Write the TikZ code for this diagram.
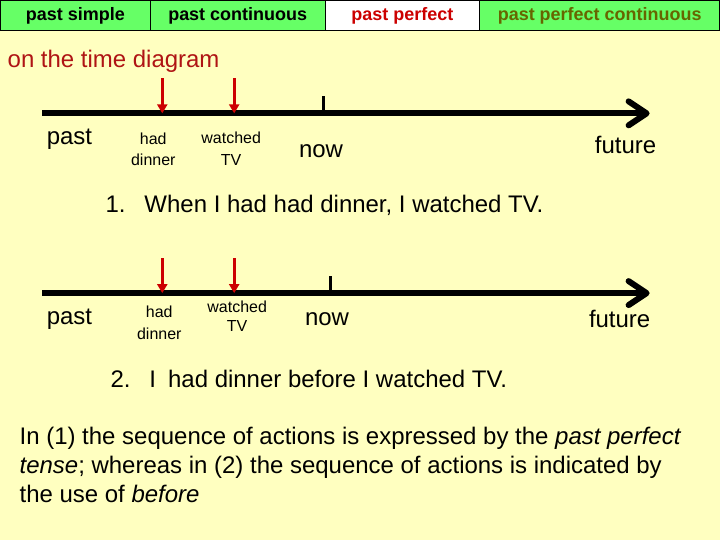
\documentclass[tikz,border=0pt]{standalone}
\usepackage{fontspec}
\setmainfont{Liberation Sans}
\usepackage{xcolor}
\usetikzlibrary{arrows.meta,positioning}
\definecolor{bgyellow}{RGB}{255,255,192}
\definecolor{tabgreen}{RGB}{102,255,102}
\definecolor{tabred}{RGB}{204,0,0}
\definecolor{tabolive}{RGB}{102,102,0}
\definecolor{titlered}{RGB}{175,20,20}
\tikzset{
  tab/.style={rectangle, draw=black, line width=1pt, fill=#1, minimum height=30pt,
              inner sep=0pt, font=\fontsize{18}{20}\selectfont\bfseries},
  tab/.default={tabgreen},
  big/.style={inner sep=0pt, font=\fontsize{24}{28}\selectfont},
  small/.style={inner sep=0pt, align=center, font=\fontsize{16}{22}\selectfont},
  timeline/.style={line width=6pt, -{Straight Barb[length=18pt,width=24pt,round]}},
  event/.style={line width=3pt, tabred, -{Triangle[length=9pt,width=10pt]}},
  nowtick/.style={line width=3pt},
}

\begin{document}
\begin{tikzpicture}[x=1pt,y=-1pt]
\fill[bgyellow] (0,0) rectangle (720,540);
% tense tabs
\node[tab, minimum width=150pt] (simple) at (75,15) {past simple};
\node[tab, minimum width=175pt] (cont) at (237.5,15) {past continuous};
\node[tab=white, minimum width=155pt, text=tabred] (perf) at (402.5,15) {past perfect};
\node[tab, minimum width=240pt, text=tabolive] (perfcont) at (600,15) {past perfect continuous};
\node[big, anchor=west, text=titlered] (title) at (7,61) {on the time diagram};
% first time line
\coordinate (past1) at (42,113);
\coordinate (fut1) at (650,113);
\coordinate (dinA) at (162,78);
\coordinate (dinB) at (162,113);
\coordinate (tvA) at (234,78);
\coordinate (tvB) at (234,113);
\coordinate (nowA) at (323,96);
\coordinate (nowB) at (323,113);
\draw[timeline] (past1) -- (fut1);
\draw[nowtick] (nowA) -- (nowB);
\draw[event] (dinA) -- (dinB);
\draw[event] (tvA) -- (tvB);
\node[big] (lpast1) at (69,139) {past};
\node[small] (ldin1) at (153,149) {had\\dinner};
\node[small] (ltv1) at (231,148) {watched\\TV};
\node[big] (lnow1) at (321,151) {now};
\node[big] (lfut1) at (626,145) {future};
\node[big, anchor=west] (ex1) at (105,205) {1.\hspace{19pt}When I had had dinner, I watched TV.};
% second time line
\coordinate (past2) at (42,293);
\coordinate (fut2) at (650,293);
\coordinate (din2A) at (162,258);
\coordinate (din2B) at (162,293);
\coordinate (tv2A) at (234,258);
\coordinate (tv2B) at (234,293);
\coordinate (now2A) at (330,276);
\coordinate (now2B) at (330,293);
\draw[timeline] (past2) -- (fut2);
\draw[nowtick] (now2A) -- (now2B);
\draw[event] (din2A) -- (din2B);
\draw[event] (tv2A) -- (tv2B);
\node[big] (lpast2) at (69,319) {past};
\node[small] (ldin2) at (159,323) {had\\dinner};
\node[small, font=\fontsize{16}{19}\selectfont] (ltv2) at (237,316) {watched\\TV};
\node[big] (lnow2) at (327,319) {now};
\node[big] (lfut2) at (620,319) {future};
\node[big, anchor=west] (ex2) at (110,379) {2.\hspace{19pt}I\hspace{12pt}had dinner before I watched TV.};
% comment
\node[inner sep=0pt, anchor=north west, align=left,
      font=\fontsize{24}{29}\selectfont] (note) at (19,427)
  {In (1) the sequence of actions is expressed by the \textit{past perfect}\\
   \textit{tense}; whereas in (2) the sequence of actions is indicated by\\
   the use of \textit{before}};
\end{tikzpicture}
\end{document}
